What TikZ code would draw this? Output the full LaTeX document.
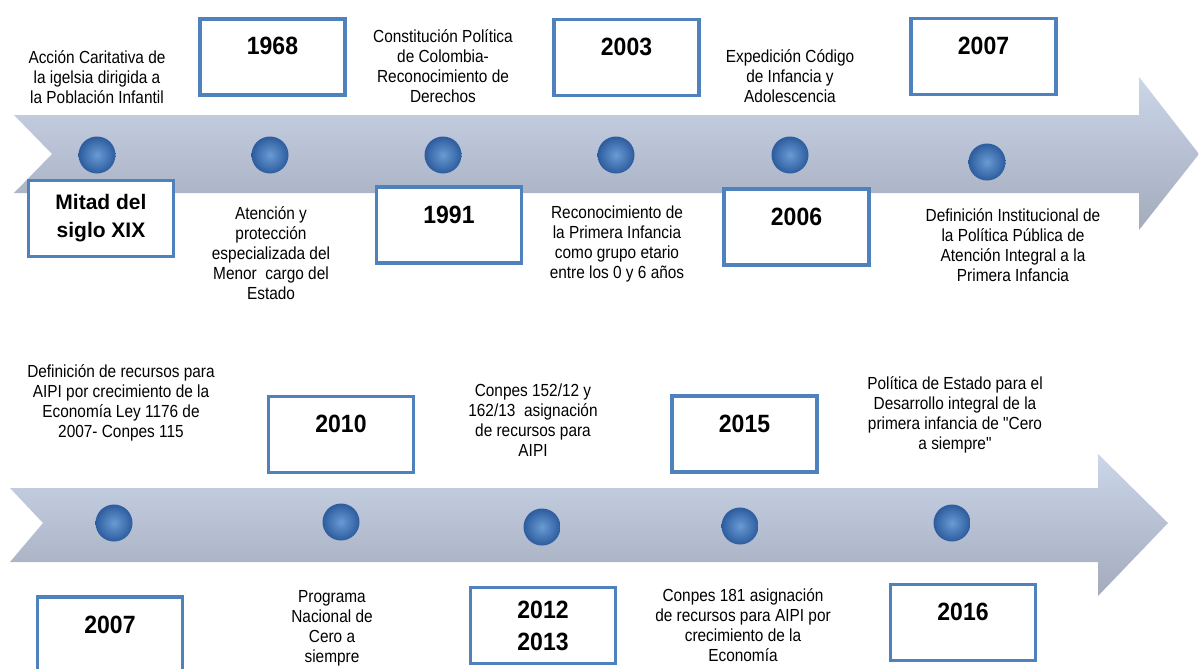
\documentclass[tikz,border=0pt]{standalone}
\usepackage{fontspec}
\setmainfont{Liberation Sans}
\newfontfamily\descfont[FakeStretch=0.88]{Liberation Sans}
\newfontfamily\yearfont[FakeStretch=0.92]{Liberation Sans}
\usetikzlibrary{positioning,calc}

\definecolor{boxblue}{RGB}{79,129,189}
\definecolor{bandtop}{RGB}{203,214,233}
\definecolor{bandbot}{RGB}{163,171,188}
\definecolor{dotin}{RGB}{105,155,212}
\definecolor{dotout}{RGB}{45,92,158}

\tikzset{
  band/.style={top color=bandtop,bottom color=bandbot},
  dot/.style={circle,inner sep=0pt,minimum size=37pt,inner color=dotin,outer color=dotout},
  yearbox/.style={draw=boxblue,line width=3.5pt,fill=white,minimum width=145pt,minimum height=76pt,
    align=center,font=\yearfont\bfseries\fontsize{25}{32}\selectfont},
  oneline/.style={text height=18pt,text depth=22pt},
  desc/.style={align=center,inner sep=0pt,font=\descfont\fontsize{17.5}{20}\selectfont}
}

\begin{document}
\begin{tikzpicture}[x=1pt,y=-1pt]
		\clip (0,0) rectangle (1199,669);
		\fill[white] (0,0) rectangle (1199,669);
		\shade[band] (14,115) -- (1139,115) -- (1139,77) -- (1199,154) -- (1139,230) -- (1139,193) -- (14,193) -- (52,154) -- cycle;
		\shade[band] (10,488) -- (1098,488) -- (1098,454) -- (1168,523) -- (1098,596) -- (1098,562) -- (10,562) -- (43,523) -- cycle;
		\foreach \x/\y [count=\i] in {97/155,270/155,443/155,616/155,790/155,987/162}
		\node[dot] (top\i) at (\x,\y) {};
		\foreach \x/\y [count=\i] in {114/523,341/522,542/527,740/526,952/523}
		\node[dot] (bot\i) at (\x,\y) {};
		\node[yearbox,font=\bfseries\fontsize{21}{28}\selectfont] (mitad) at (101,218.5) {Mitad del\\siglo XIX};
		\node[yearbox,oneline] (y1968) at (272.5,57) {1968};
		\node[yearbox,oneline] (y1991) at (449,225) {1991};
		\node[yearbox,oneline] (y2003) at (626.5,57.5) {2003};
		\node[yearbox,oneline] (y2006) at (796.5,227) {2006};
		\node[yearbox,oneline] (y2007a) at (983.5,56.5) {2007};
		\node[yearbox,oneline] (y2010) at (341,434.5) {2010};
		\node[yearbox,oneline] (y2007b) at (110,635) {2007};
		\node[yearbox] (y2012) at (543,625.5) {2012\\2013};
		\node[yearbox,oneline] (y2015) at (744.5,434) {2015};
		\node[yearbox,oneline] (y2016) at (963,622.5) {2016};
		\node[desc] (caritativa) at (97,77) {Acción Caritativa de\\la igelsia dirigida a\\la Población Infantil};
		\node[desc] (atencion) at (271,253) {Atención y\\protección\\especializada del\\Menor~ cargo del\\Estado};
		\node[desc] (constitucion) at (443,66) {Constitución Política\\de Colombia-\\Reconocimiento de\\Derechos};
		\node[desc] (primera) at (617,244) {Reconocimiento de\\la Primera Infancia\\como grupo etario\\entre los 0 y 6 años};
		\node[desc] (codigo) at (790,76) {Expedición Código\\de Infancia y\\Adolescencia};
		\node[desc] (institucional) at (1013,245) {Definición Institucional de\\la Política Pública de\\Atención Integral a la\\Primera Infancia};
		\node[desc] (recursos) at (121,403) {Definición de recursos para\\AIPI por crecimiento de la\\Economía Ley 1176 de\\2007- Conpes 115};
		\node[desc] (programa) at (332,628) {Programa\\Nacional de\\Cero a\\siempre};
		\node[desc] (conpesa) at (533,420) {Conpes 152/12 y\\162/13~ asignación\\de recursos para\\AIPI};
		\node[desc] (conpesb) at (743,625) {Conpes 181 asignación\\de recursos para AIPI por\\crecimiento de la\\Economía};
		\node[desc] (estado) at (955,415) {Política de Estado para el\\Desarrollo integral de la\\primera infancia de "Cero\\a siempre"};
		\end{tikzpicture}
\end{document}
